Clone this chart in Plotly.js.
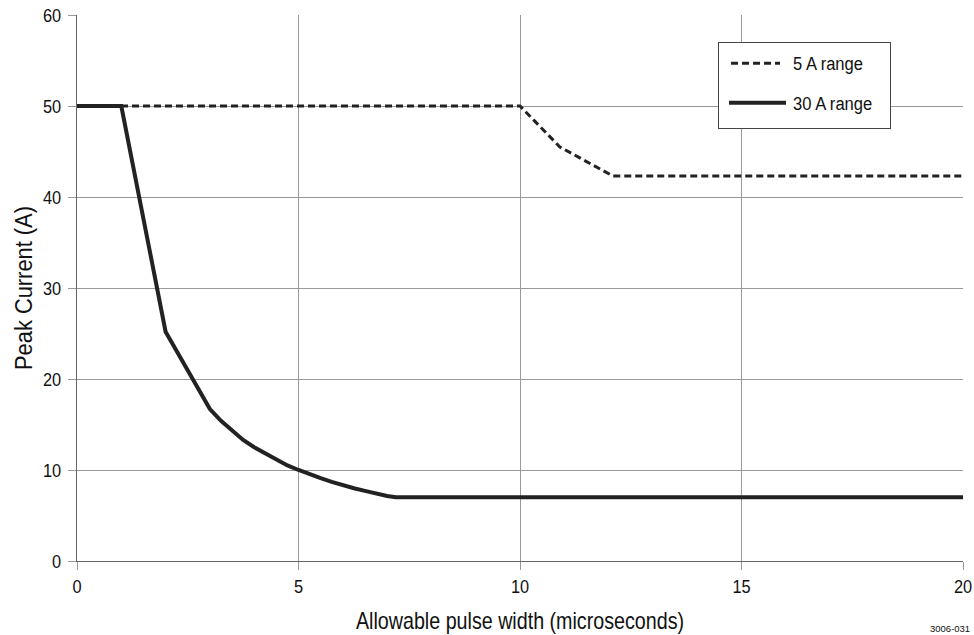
<!DOCTYPE html>
<html>
<head>
<meta charset="utf-8">
<script src="https://cdn.plot.ly/plotly-3.0.1.min.js"></script>
<style>html,body{margin:0;padding:0;background:#fff;}#chart{width:974px;height:635px;}</style>
</head>
<body>
<div id="chart"></div>
<script>
// Data
const range5A_x = [0, 10, 10.9, 12.1, 20];
const range5A_y = [50, 50, 45.5, 42.3, 42.3];
const range30A_x = [0, 1, 2, 3, 3.25, 3.5, 3.75, 4, 4.25, 4.5, 4.75, 5, 5.25, 5.5, 5.75, 6, 6.25, 6.5, 6.75, 7, 7.2, 20];
const range30A_y = [50, 50, 25.2, 16.7, 15.4, 14.3, 13.3, 12.5, 11.8, 11.1, 10.5, 10.0, 9.5, 9.1, 8.7, 8.3, 8.0, 7.7, 7.4, 7.15, 7.0, 7.0];
const seriesNames = ["5 A range", "30 A range"];
const xTicks = [0, 5, 10, 15, 20];
const yTicks = [0, 10, 20, 30, 40, 50, 60];
const xTitle = 'Allowable pulse width (microseconds)';
const yTitle = 'Peak Current (A)';
const figureCode = '3006-031';

const FONT = '"Liberation Sans", Arial, sans-serif';

const traces = [
  {x: range5A_x, y: range5A_y, name: seriesNames[0], mode: 'lines', legendgroup: 'a',
   line: {color: '#222', width: 3, dash: '7px,4px'}},
  {x: range30A_x, y: range30A_y, name: seriesNames[1], mode: 'lines', legendgroup: 'b',
   line: {color: '#222', width: 4}}
];

const layout = {
  width: 974, height: 635,
  margin: {l: 77, r: 11, t: 15, b: 74},
  paper_bgcolor: '#fff', plot_bgcolor: '#fff',
  font: {family: FONT, size: 16, color: '#111'},
  showlegend: true,
  legend: {x: 0.7235, y: 0.9505, xanchor: 'left', yanchor: 'top',
    bordercolor: '#444', borderwidth: 1, bgcolor: '#fff',
    font: {family: FONT, size: 18, color: '#111'}, tracegroupgap: 13,
    itemwidth: 64},
  xaxis: {range: [0, 20], tickvals: xTicks, ticktext: xTicks.map(String),
    showgrid: true, gridcolor: '#999', gridwidth: 1, zeroline: false,
    showline: true, linecolor: '#666', linewidth: 1,
    ticks: 'outside', ticklen: 8, tickcolor: '#999', ticklabeloverflow: 'allow',
    tickfont: {family: FONT, size: 19},
    title: {text: xTitle, font: {family: FONT, size: 24}, standoff: 16}},
  yaxis: {range: [0, 60], tickvals: yTicks, ticktext: yTicks.map(String),
    showgrid: true, gridcolor: '#999', gridwidth: 1, zeroline: false,
    showline: true, linecolor: '#666', linewidth: 1,
    ticks: 'outside', ticklen: 8, tickcolor: '#999', ticklabelstandoff: 3,
    tickfont: {family: FONT, size: 19},
    title: {text: yTitle, font: {family: FONT, size: 23}, standoff: 1}},
  annotations: [{text: figureCode, xref: 'paper', yref: 'paper', x: 1.0102, y: -0.1245,
    xanchor: 'right', yanchor: 'middle', showarrow: false,
    font: {family: FONT, size: 9.5, color: '#111'}}]
};

Plotly.newPlot('chart', traces, layout, {displayModeBar: false, staticPlot: true}).then(function (gd) {
  // Condensed (narrow) look of the original typeface
  gd.querySelectorAll('svg text').forEach(function (t) {
    if (t.closest('.annotation')) return;
    let k = 0.82;
    if (t.closest('.xtick') || t.closest('.ytick')) k = 0.86;
    if (t.closest('.legend')) k = 0.92;
    if (t.classList.contains('ytitle')) k = 0.95;
    const len = t.getComputedTextLength();
    if (len > 0) {
      t.setAttribute('textLength', (len * k).toFixed(2));
      t.setAttribute('lengthAdjust', 'spacingAndGlyphs');
    }
  });
  // Legend: longer line samples and a roomier box like the reference
  gd.querySelectorAll('.legend .legendlines path').forEach(function (p, i) {
    p.setAttribute('d', i === 0 ? 'M12,0h49' : 'M10,0h57');
  });
  const bg = gd.querySelector('.legend rect.bg');
  if (bg) { bg.setAttribute('width', '172'); bg.setAttribute('height', '86'); }
  const leg = gd.querySelector('.legend');
  if (leg) {
    leg.querySelectorAll('.traces').forEach(function (tr) {
      const tf = tr.getAttribute('transform') || '';
      const m = tf.match(/translate\(([-\d.]+),\s*([-\d.]+)\)/);
      if (m) tr.setAttribute('transform', 'translate(' + m[1] + ',' + (parseFloat(m[2]) + 2) + ')');
    });
  }
});
</script>
</body>
</html>
